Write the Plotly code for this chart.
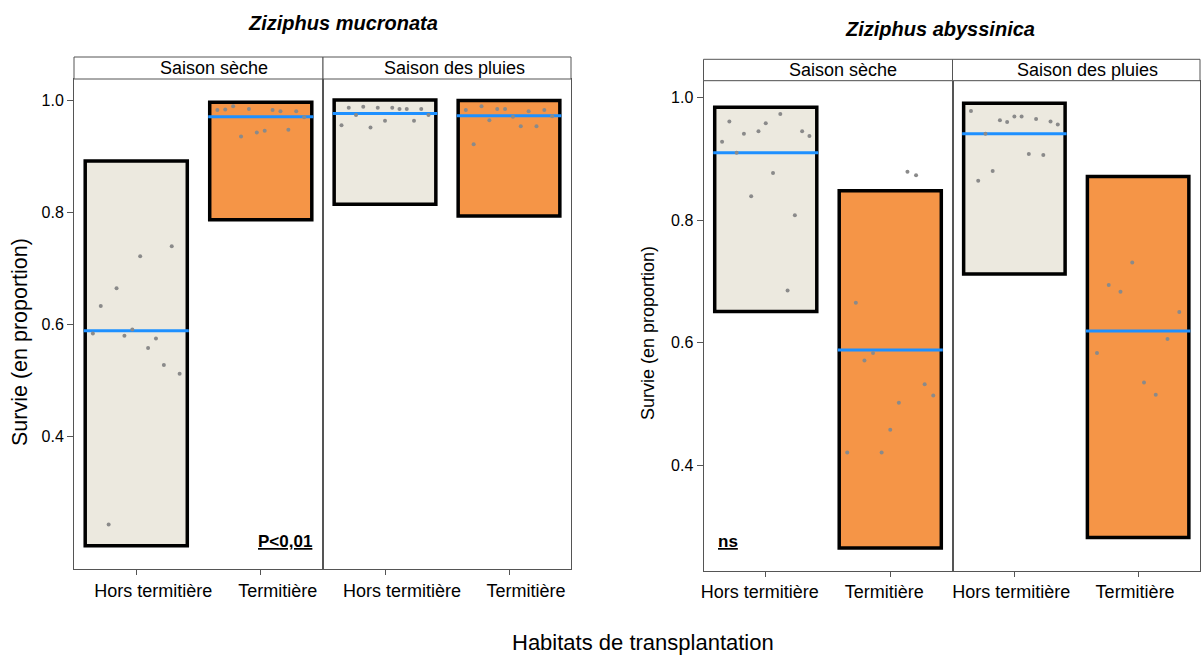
import plotly.graph_objects as go

# ---------------- data ----------------
habitats = ["Hors termitière", "Termitière"]
seasons = ["Saison sèche", "Saison des pluies"]
species = ["Ziziphus mucronata", "Ziziphus abyssinica"]

# Ziziphus mucronata : survival per plot
muc_dry_hors = [0.583, 0.632, 0.242, 0.664, 0.579, 0.590, 0.721, 0.557, 0.574, 0.527, 0.739, 0.511]
muc_dry_term = [0.982, 0.983, 0.989, 0.935, 0.984, 0.942, 0.945, 0.982, 0.980, 0.947, 0.980, 0.969]
muc_rain_hors = [0.955, 0.986, 0.973, 0.988, 0.951, 0.986, 0.963, 0.986, 0.984, 0.984, 0.963, 0.984, 0.973]
muc_rain_term = [0.982, 0.921, 0.989, 0.964, 0.984, 0.984, 0.970, 0.953, 0.980, 0.953, 0.982, 0.971]
muc_means = [[0.588, 0.970], [0.976, 0.972]]
muc_lower = [[0.204, 0.786], [0.814, 0.793]]
muc_upper = [[0.891, 0.996], [1.000, 0.999]]

# Ziziphus abyssinica : survival per plot
aby_dry_hors = [0.928, 0.961, 0.910, 0.941, 0.839, 0.945, 0.958, 0.877, 0.973, 0.685, 0.808, 0.945, 0.937]
aby_dry_term = [0.421, 0.665, 0.571, 0.583, 0.421, 0.458, 0.502, 0.879, 0.873, 0.532, 0.514]
aby_rain_hors = [0.978, 0.864, 0.941, 0.880, 0.963, 0.960, 0.969, 0.969, 0.908, 0.965, 0.906, 0.961, 0.956]
aby_rain_term = [0.583, 0.694, 0.683, 0.731, 0.535, 0.515, 0.606, 0.650]
aby_means = [[0.910, 0.588], [0.941, 0.619]]
aby_lower = [[0.651, 0.265], [0.712, 0.282]]
aby_upper = [[0.984, 0.848], [0.9905, 0.871]]

y_ticks = [0.4, 0.6, 0.8, 1.0]
p_labels = ["P&lt;0,01", "ns"]

# ---------------- styling ----------------
W, H = 1201, 660
FONT = "Liberation Sans, Arial, sans-serif"
FILL = ["#ECE9DF", "#F59547"]
MEAN_COLOR = "#1E90FF"
POINT_COLOR = "#8A8A8A"
FRAME = "#555555"
HALF = 0.41


def px(x):
    return x / W


def py(y):
    return 1 - y / H


fig = go.Figure()

panels = [
    dict(points=[[muc_dry_hors, muc_dry_term], [muc_rain_hors, muc_rain_term]],
         means=muc_means, lower=muc_lower, upper=muc_upper,
         xs=[(74, 323), (323, 571)], ys=(79, 569), strip=(57, 79),
         label_shift=[17, 17], strip_shift=[15, 7],
         yrange=[0.1625, 1.0375], title_xy=(343, 23), ylab_xy=(20, 342), ylab_size=21.5,
         p_xy=(314, 541), p_anchor="right"),
    dict(points=[[aby_dry_hors, aby_dry_term], [aby_rain_hors, aby_rain_term]],
         means=aby_means, lower=aby_lower, upper=aby_upper,
         xs=[(703.5, 952.5), (952.5, 1200)], ys=(80.7, 570.7), strip=(59.3, 80.7),
         label_shift=[-6, -3], strip_shift=[15, 11],
         yrange=[0.228, 1.0274], title_xy=(940, 29), ylab_xy=(648, 333), ylab_size=18,
         p_xy=(716, 541), p_anchor="left"),
]

annotations = []
shapes = []
ax = 0
for k, pnl in enumerate(panels):
    for s in range(2):
        ax += 1
        xname = "x" if ax == 1 else f"x{ax}"
        yname = "y" if ax == 1 else f"y{ax}"
        xl, xr = pnl["xs"][s]
        yt, yb = pnl["ys"]

        # credible band boxes
        lo = pnl["lower"][s]
        up = pnl["upper"][s]
        fig.add_trace(go.Bar(
            x=[0, 1], y=[up[i] - lo[i] for i in range(2)], base=lo, width=2 * HALF,
            marker=dict(color=FILL, line=dict(color="black", width=3.5)),
            xaxis=xname, yaxis=yname, showlegend=False, hoverinfo="skip"))

        for h in range(2):
            # mean line
            m = pnl["means"][s][h]
            fig.add_trace(go.Scatter(
                x=[h - HALF - 0.012, h + HALF + 0.012], y=[m, m], mode="lines",
                line=dict(color=MEAN_COLOR, width=3),
                xaxis=xname, yaxis=yname, showlegend=False, hoverinfo="skip"))
            # raw observations spread across the box
            vals = pnl["points"][s][h]
            n = len(vals)
            spread = 0.38
            xs = [h - spread + (i + 0.5) * 2 * spread / n for i in range(n)]
            fig.add_trace(go.Scatter(
                x=xs, y=vals, mode="markers",
                marker=dict(color=POINT_COLOR, size=4),
                xaxis=xname, yaxis=yname, showlegend=False))

        xaxis = dict(domain=[px(xl), px(xr)], range=[-0.5, 1.5], anchor=yname,
                     tickvals=[0, 1], ticktext=habitats, ticks="outside", ticklen=5,
                     tickcolor=FRAME, showgrid=False, zeroline=False, showline=True,
                     linecolor=FRAME, linewidth=1, mirror=True, automargin=False,
                     ticklabelshift=pnl["label_shift"][s],
                     tickfont=dict(family=FONT, size=18, color="black"), fixedrange=True)
        yaxis = dict(domain=[py(yb), py(yt)], range=pnl["yrange"], anchor=xname,
                     tickvals=y_ticks, tickformat=".1f", showgrid=False, zeroline=False,
                     showline=True, linecolor=FRAME, linewidth=1, mirror=True, automargin=False,
                     tickfont=dict(family=FONT, size=16, color="black"), fixedrange=True)
        if s == 0:
            yaxis.update(ticks="outside", ticklen=6, tickcolor=FRAME)
        else:
            yaxis.update(ticks="", showticklabels=False)
        fig.layout["xaxis" if ax == 1 else f"xaxis{ax}"] = xaxis
        fig.layout["yaxis" if ax == 1 else f"yaxis{ax}"] = yaxis

        # facet strip
        st, sb = pnl["strip"]
        shapes.append(dict(type="rect", xref="paper", yref="paper",
                           x0=px(xl), x1=px(xr), y0=py(sb), y1=py(st),
                           line=dict(color=FRAME, width=1), fillcolor="white"))
        annotations.append(dict(x=px((xl + xr) / 2 + pnl["strip_shift"][s]), y=py((st + sb) / 2),
                                xref="paper", yref="paper",
                                text=seasons[s], showarrow=False,
                                font=dict(family=FONT, size=18, color="black"),
                                xanchor="center", yanchor="middle"))

    # species title
    tx, ty = pnl["title_xy"]
    annotations.append(dict(x=px(tx), y=py(ty), xref="paper", yref="paper",
                            text=f"<b><i>{species[k]}</i></b>", showarrow=False,
                            font=dict(family=FONT, size=20, color="black"),
                            xanchor="center", yanchor="middle"))
    # y axis title
    lx, ly = pnl["ylab_xy"]
    annotations.append(dict(x=px(lx), y=py(ly), xref="paper", yref="paper",
                            text="Survie (en proportion)", showarrow=False, textangle=-90,
                            font=dict(family=FONT, size=pnl["ylab_size"], color="black"),
                            xanchor="center", yanchor="middle"))
    # significance label
    pxx, pyy = pnl["p_xy"]
    annotations.append(dict(x=px(pxx), y=py(pyy), xref="paper", yref="paper",
                            text=f"<b><u>{p_labels[k]}</u></b>", showarrow=False,
                            font=dict(family=FONT, size=17, color="black"),
                            xanchor=pnl["p_anchor"], yanchor="middle"))

# shared x title
annotations.append(dict(x=px(643), y=py(642), xref="paper", yref="paper",
                        text="Habitats de transplantation", showarrow=False,
                        font=dict(family=FONT, size=22, color="black"),
                        xanchor="center", yanchor="middle"))

fig.update_layout(
    width=W, height=H, margin=dict(l=0, r=0, t=0, b=0),
    paper_bgcolor="white", plot_bgcolor="white", barmode="overlay",
    annotations=annotations, shapes=shapes, showlegend=False,
    font=dict(family=FONT, color="black"),
)

fig.write_html("out.html")
